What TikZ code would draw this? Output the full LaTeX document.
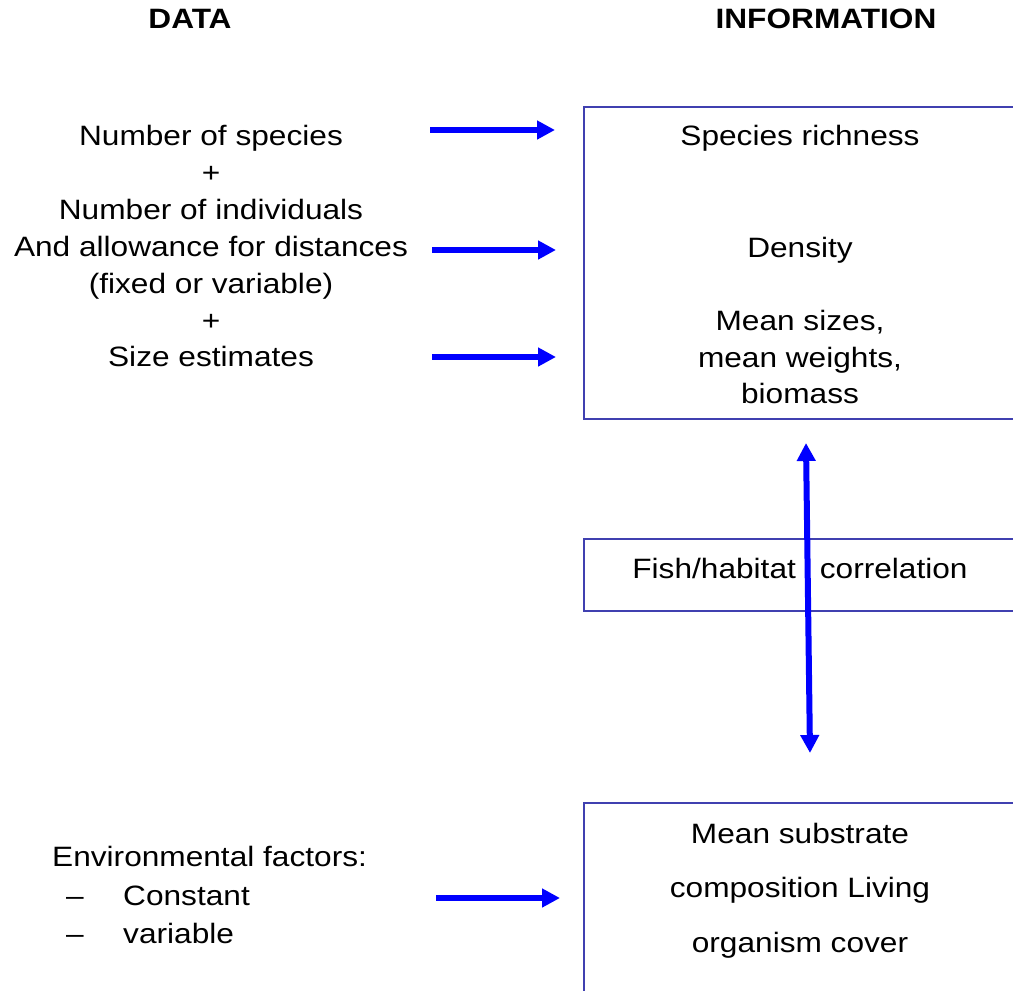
\documentclass[tikz,border=0pt]{standalone}
\usepackage{fontspec}
\setmainfont[FakeStretch=1.13]{Liberation Sans}
\usetikzlibrary{arrows.meta}
\definecolor{boxblue}{RGB}{64,64,176}
\definecolor{arrowblue}{RGB}{0,0,255}
\begin{document}
\begin{tikzpicture}[x=1pt,y=-1pt,
  txt/.style={inner sep=0pt, anchor=base, font=\fontsize{28}{34}\selectfont},
  txtl/.style={txt, anchor=base west},
  ttl/.style={txt, font=\fontsize{28}{34}\selectfont\bfseries},
  frame/.style={draw=boxblue, line width=2pt, anchor=north west, inner sep=0pt, minimum width=460pt},
  arr/.style={-{Triangle[length=18pt,width=18pt]}, line width=6pt, draw=arrowblue},
  darr/.style={{Triangle[length=18pt,width=18pt]}-{Triangle[length=18pt,width=18pt]}, line width=6pt, draw=arrowblue}]
\useasboundingbox (0,0) rectangle (1013,991);
\clip (0,0) rectangle (1013,991);

% titles
\node[ttl] (tdata) at (190,28) {DATA};
\node[ttl] (tinfo) at (826,28) {INFORMATION};

% boxes
\node[frame, minimum height=312pt] (box1) at (583,106) {};
\node[frame, minimum height=72pt] (box2) at (583,538) {};
\node[frame, minimum height=240pt] (box3) at (583,802) {};

% left data text
\node[txt] (l1) at (211,145) {Number of species};
\node[txt] (l2) at (211,182) {+};
\node[txt] (l3) at (211,219) {Number of individuals};
\node[txt] (l4) at (211,256) {And allowance for distances};
\node[txt] (l5) at (211,293) {(fixed or variable)};
\node[txt] (l6) at (211,330) {+};
\node[txt] (l7) at (211,366) {Size estimates};

% box 1 text
\node[txt] (r1) at (800,145) {Species richness};
\node[txt] (r2) at (800,257) {Density};
\node[txt] (r3) at (800,330) {Mean sizes,};
\node[txt] (r4) at (800,367) {mean weights,};
\node[txt] (r5) at (800,403) {biomass};

% box 2 text
\node[txt] (c1) at (800,578) {Fish/habitat\hspace{24pt}correlation};

% box 3 text
\node[txt] (m1) at (800,843) {Mean substrate};
\node[txt] (m2) at (800,897) {composition Living};
\node[txt] (m3) at (800,952) {organism cover};

% environmental factors
\node[txtl] (e1) at (52,866) {Environmental factors:};
\node[txt] (e2d) at (75,905) {–};
\node[txtl] (e2) at (123,905) {Constant};
\node[txt] (e3d) at (75,943) {–};
\node[txtl] (e3) at (123,943) {variable};

% arrow coordinates
\coordinate (a1s) at (430,130);
\coordinate (a1e) at (555,130);
\coordinate (a2s) at (432,250);
\coordinate (a2e) at (556,250);
\coordinate (a3s) at (432,357);
\coordinate (a3e) at (556,357);
\coordinate (a4s) at (436,898);
\coordinate (a4e) at (560,898);
\coordinate (vt) at (806,443);
\coordinate (vb) at (810,753);

\draw[arr] (a1s) -- (a1e);
\draw[arr] (a2s) -- (a2e);
\draw[arr] (a3s) -- (a3e);
\draw[arr] (a4s) -- (a4e);
\draw[darr] (vt) -- (vb);
\end{tikzpicture}
\end{document}
